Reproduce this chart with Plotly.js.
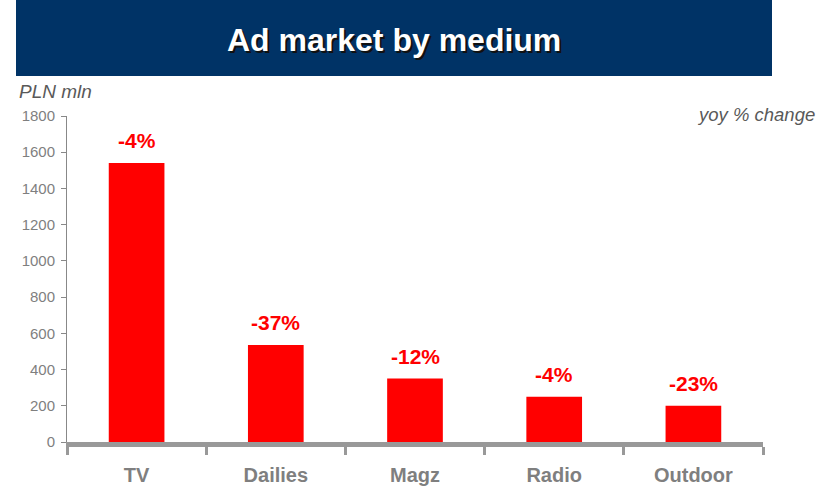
<!DOCTYPE html>
<html>
<head>
<meta charset="utf-8">
<script src="https://cdn.plot.ly/plotly-3.0.1.min.js"></script>
<style>html,body{margin:0;padding:0;background:#fff;}#chart{width:825px;height:489px;}</style>
</head>
<body>
<div id="chart"></div>
<script>
const categories = ["TV", "Dailies", "Magz", "Radio", "Outdoor"];
const values = [1540, 535, 350, 250, 200];
const yoyLabels = ["-4%", "-37%", "-12%", "-4%", "-23%"];
const yTicks = [0, 200, 400, 600, 800, 1000, 1200, 1400, 1600, 1800];

const FONT = "Liberation Sans, Arial, sans-serif";
const L = 67, R = 62, T = 116, B = 47;
const W = 825, H = 489;
const pw = W - L - R, ph = H - T - B;
const px = v => (v - L) / pw;
const py = v => (H - B - v) / ph;

const trace = {
  type: "bar",
  x: categories,
  y: values,
  marker: { color: "#ff0000", line: { width: 0 } },
  hoverinfo: "skip"
};

const annotations = categories.map((c, i) => ({
  x: c, y: values[i], xref: "x", yref: "y",
  text: "<b>" + yoyLabels[i] + "</b>",
  showarrow: false, yanchor: "bottom", yshift: 9,
  font: { family: FONT, size: 21, color: "#ff0000" }
}));

annotations.push({
  xref: "paper", yref: "paper", x: px(394), y: py(40),
  xanchor: "center", yanchor: "middle",
  text: "<b>Ad market by medium</b>", showarrow: false,
  font: { family: FONT, size: 32, color: "#ffffff", shadow: "2px 2px 0px #111111" }
});
annotations.push({
  xref: "paper", yref: "paper", x: px(17), y: py(91),
  xanchor: "left", yanchor: "middle",
  text: "<i>PLN mln</i>", showarrow: false,
  font: { family: FONT, size: 19, color: "#595959" }
});
annotations.push({
  xref: "paper", yref: "paper", x: px(817), y: py(114),
  xanchor: "right", yanchor: "middle",
  text: "<i>yoy % change</i>", showarrow: false,
  font: { family: FONT, size: 18.5, color: "#595959" }
});

const layout = {
  width: W, height: H,
  margin: { l: L, r: R, t: T, b: B, pad: 0 },
  paper_bgcolor: "#ffffff", plot_bgcolor: "#ffffff",
  showlegend: false,
  bargap: 0.6,
  font: { family: FONT },
  xaxis: {
    type: "category",
    showgrid: false, zeroline: false,
    showline: true, linecolor: "#999999", linewidth: 5,
    ticks: "outside", tickson: "boundaries", ticklen: 8, tickwidth: 3, tickcolor: "#999999",
    ticklabelstandoff: 11,
    tickfont: { family: FONT, size: 20, color: "#7f7f7f", weight: "bold" },
    fixedrange: true
  },
  yaxis: {
    range: [0, 1800],
    tickvals: yTicks,
    showgrid: false, zeroline: false,
    showline: true, linecolor: "#888888", linewidth: 1,
    ticks: "outside", ticklen: 5, tickwidth: 1, tickcolor: "#888888",
    ticklabelstandoff: 3,
    tickfont: { family: FONT, size: 15, color: "#7f7f7f" },
    fixedrange: true
  },
  shapes: [{
    type: "rect", xref: "paper", yref: "paper", layer: "below",
    x0: px(16), x1: px(772), y0: py(76), y1: py(-2),
    fillcolor: "#003366", line: { width: 0 }
  }],
  annotations: annotations
};

Plotly.newPlot("chart", [trace], layout, { displayModeBar: false, staticPlot: true });
</script>
</body>
</html>
